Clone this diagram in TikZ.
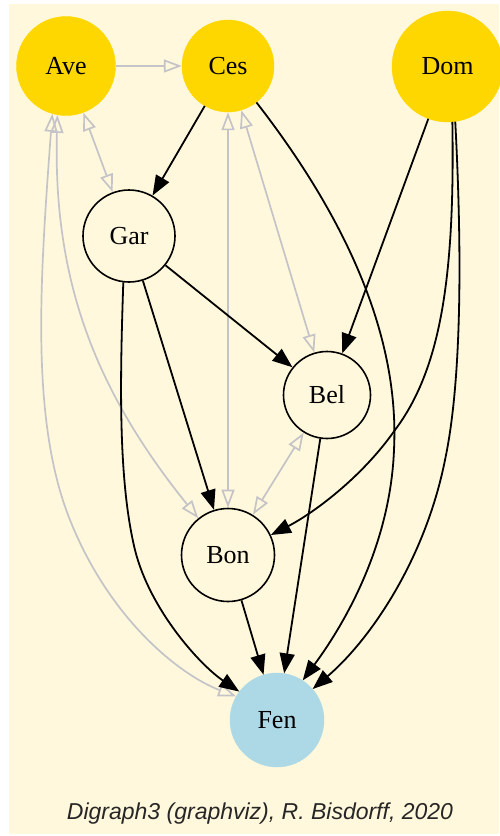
\documentclass[tikz,border=0pt]{standalone}
\usepackage{fontspec}
\setmainfont{Liberation Serif}
\newfontfamily\captionfont{Liberation Sans}
\usetikzlibrary{arrows.meta}
\definecolor{cream}{HTML}{FFF8DC}
\definecolor{goldfill}{HTML}{FFD700}
\definecolor{bluefill}{HTML}{ADD8E6}
\definecolor{edgegray}{HTML}{C4C4C8}
\tikzset{
  topnode/.style={circle, fill=goldfill, draw=goldfill, inner sep=0pt, font=\fontsize{26}{26}\selectfont},
  midnode/.style={circle, fill=cream, draw=black, line width=1.6pt, inner sep=0pt, font=\fontsize{26}{26}\selectfont},
  endnode/.style={circle, fill=bluefill, draw=bluefill, inner sep=0pt, font=\fontsize{26}{26}\selectfont},
  blk/.style={draw=black, line width=1.8pt, -{Triangle[length=20pt,width=15pt]}},
  gry/.style={draw=edgegray, line width=1.7pt, -{Triangle[open,length=18pt,width=13pt]}},
  grytwo/.style={draw=edgegray, line width=1.7pt, {Triangle[open,length=18pt,width=13pt]}-{Triangle[open,length=18pt,width=13pt]}},
}
\begin{document}
\begin{tikzpicture}[x=1pt,y=-1pt]
  % canvas
  \useasboundingbox (0,0) rectangle (499,836);
  \fill[white] (0,0) rectangle (499,836);
  \fill[cream] (9,4) rectangle (499,834);

  % nodes
  \node[topnode, minimum size=99pt]  (Ave) at (66,66)     {Ave};
  \node[topnode, minimum size=92pt]  (Ces) at (228,66)    {Ces};
  \node[topnode, minimum size=111pt] (Dom) at (447.5,66.5) {Dom};
  \node[midnode, minimum size=92pt]  (Gar) at (129,236)   {Gar};
  \node[midnode, minimum size=87pt]  (Bel) at (327,395)   {Bel};
  \node[midnode, minimum size=93pt]  (Bon) at (228,555)   {Bon};
  \node[endnode, minimum size=94pt]  (Fen) at (277,720)   {Fen};

  % indifference / weak links (gray, open heads)
  \draw[gry] (Ave) -- (Ces);
  \draw[grytwo] (Ave) -- (Gar);
  \draw[grytwo] (Ave.260) .. controls (53,280) and (95,390) .. (Bon.129);
  \draw[grytwo] (Ave.254) .. controls (40,280) and (30,420) .. (70,520)
                           .. controls (110,620) and (180,675) .. (Fen.150);
  \draw[grytwo] (Ces) -- (Bon);
  \draw[grytwo] (Ces) -- (Bel);
  \draw[grytwo] (Bel) -- (Bon);

  % strict links (black)
  \draw[blk] (Ces) -- (Gar);
  \draw[blk] (Ces.308) .. controls (340,210) and (400,330) .. (394,450)
                        .. controls (390,550) and (340,630) .. (Fen.57);
  \draw[blk] (Dom) -- (Bel);
  \draw[blk] (Dom.275) .. controls (455,280) and (440,370) .. (395,430)
                        .. controls (360,480) and (310,515) .. (Bon.25);
  \draw[blk] (Dom.278) .. controls (462,250) and (462,380) .. (445,460)
                        .. controls (425,560) and (370,640) .. (Fen.41);
  \draw[blk] (Gar) -- (Bel);
  \draw[blk] (Gar) -- (Bon);
  \draw[blk] (Gar.263) .. controls (120,380) and (118,480) .. (135,550)
                        .. controls (150,610) and (200,665) .. (Fen.143);
  \draw[blk] (Bel) -- (Fen);
  \draw[blk] (Bon) -- (Fen);

  % caption
  \node[anchor=base, inner sep=0pt, font=\captionfont\itshape\fontsize{23}{23}\selectfont, text=black!85] (cap) at (260,819)
    {Digraph3 (graphviz), R. Bisdorff, 2020};
\end{tikzpicture}
\end{document}
